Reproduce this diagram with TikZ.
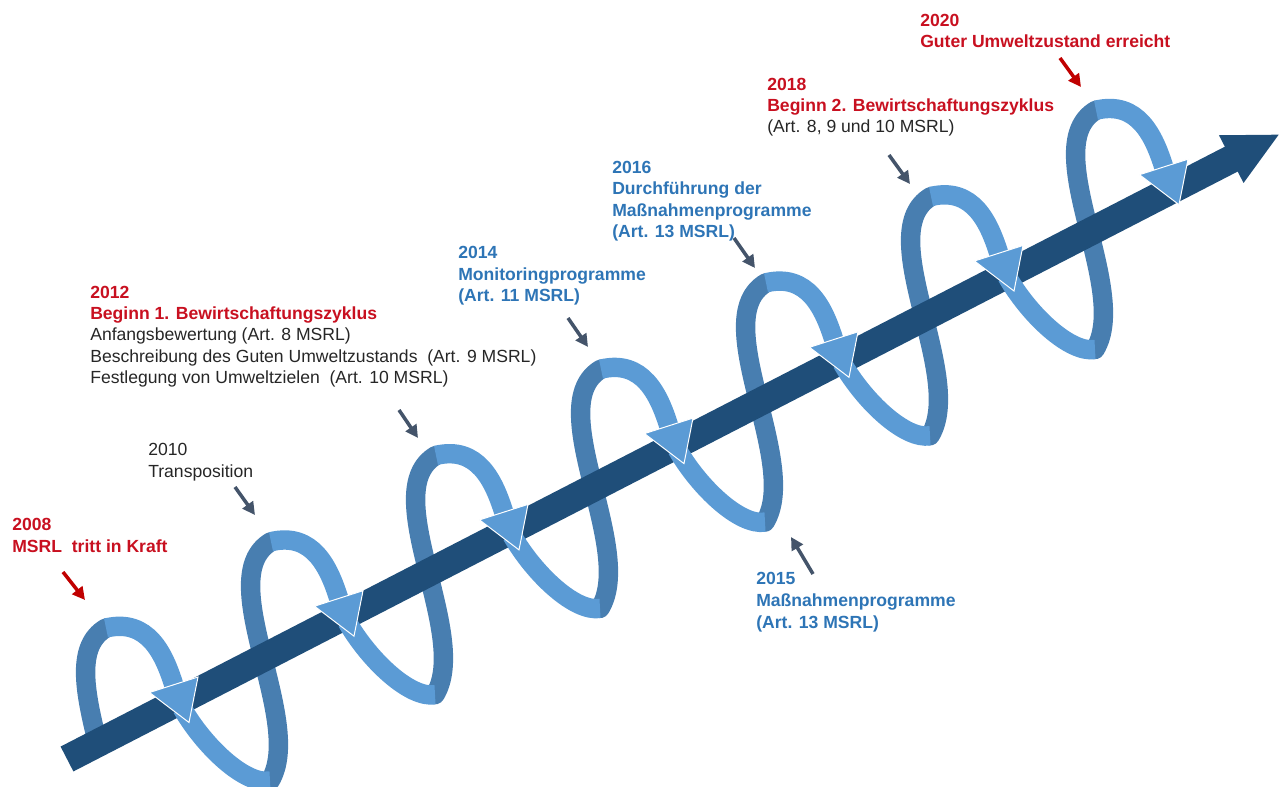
\documentclass[tikz,border=0pt]{standalone}
\usepackage{fontspec}
\setmainfont{Liberation Sans}
\usetikzlibrary{arrows.meta}
\definecolor{ringlight}{RGB}{91,155,213}
\definecolor{ringdark}{RGB}{72,126,176}
\definecolor{axisblue}{RGB}{31,78,121}
\definecolor{txtblue}{RGB}{46,117,182}
\definecolor{txtred}{RGB}{200,16,32}
\definecolor{arrred}{RGB}{192,0,0}
\definecolor{arrgray}{RGB}{68,84,106}
\definecolor{txtgray}{RGB}{38,38,38}

\begin{document}
\begin{tikzpicture}[x=0.025cm,y=-0.025cm,
    ringfront/.style={ringlight,line width=13.8pt},
    ringback/.style={ringdark,line width=13.8pt,line cap=round},
    ringtip/.style={fill=ringlight,draw=white,line width=0.7pt},
    note/.style={anchor=base west,inner sep=0pt,align=left,
      font=\fontsize{12.5}{15.3}\selectfont},
    boldnote/.style={note,font=\fontsize{12.5}{15.3}\selectfont\bfseries},
    pointer/.style={line width=2.5pt,-{Triangle[length=9pt,width=9pt]}}]
  \useasboundingbox (0,0) rectangle (1283,787);
  \pgfmathsetmacro\dx{165}
  \pgfmathsetmacro\dy{-86.3}

  % back halves of the rings (behind the axis)
  \begin{scope}
    \clip (0,0) -- (1283,0) -- (1283,131.8) -- (0,792.5) -- cycle;
    \draw[ringback,shift={(106,628)}]
      (-1,239.3) .. controls (35,180) and (-60,35) .. (0,0);
  \end{scope}
  \foreach \k in {0,...,5}{
    \pgfmathsetmacro\tx{106+\k*\dx}
    \pgfmathsetmacro\ty{628+\k*\dy}
    \draw[ringback,shift={(\tx,\ty)}]
      (164,153) .. controls (200,93.7) and (105,-51.3) .. (165,-86.3);
  }

  % time axis
  \coordinate (tail) at (67,759);
  \coordinate (head) at (1280,134);
  \draw[axisblue,line width=19.9pt,-{Triangle[length=39pt,width=35pt]}] (tail) -- (head);

  % front halves of the rings
  \foreach \k in {0,...,6}{
    \pgfmathsetmacro\tx{106+\k*\dx}
    \pgfmathsetmacro\ty{628+\k*\dy}
    \begin{scope}[shift={(\tx,\ty)}]
      \ifnum\k<6
        \draw[ringfront] (76,80) .. controls (98.5,119) and (139,157) .. (164,153);
      \fi
      \draw[ringfront] (0,0) .. controls (42,-10) and (58,26) .. (67.75,56.75);
      \filldraw[ringtip] (43.5,64.5) -- (92,49) -- (83,94.5) -- cycle;
    \end{scope}
  }

  % milestones (base = baseline of the last line)
  \node[boldnote,txtred] (y2008) at (12,552) {2008\\MSRL\ \ tritt in Kraft};
  \node[note,txtgray] (y2010) at (148,477) {2010\\Transposition};
  \node[boldnote,txtred] (y2012) at (90,320) {2012\\Beginn 1. Bewirtschaftungszyklus};
  \node[note,txtgray] (d2012) at (90,384)
    {Anfangsbewertung (Art. 8 MSRL)\\
     Beschreibung des Guten Umweltzustands\ \ (Art. 9 MSRL)\\
     Festlegung von Umweltzielen\ \ (Art. 10 MSRL)};
  \node[boldnote,txtblue] (y2014) at (458,302) {2014\\Monitoringprogramme\\(Art. 11 MSRL)};
  \node[boldnote,txtblue] (y2016) at (612,238)
    {2016\\Durchführung der\\Maßnahmenprogramme\\(Art. 13 MSRL)};
  \node[boldnote,txtblue] (y2015) at (756,628) {2015\\Maßnahmenprogramme\\(Art. 13 MSRL)};
  \node[boldnote,txtred] (y2018) at (767,112) {2018\\Beginn 2. Bewirtschaftungszyklus};
  \node[note,txtgray] (d2018) at (767,133) {(Art. 8, 9 und 10 MSRL)};
  \node[boldnote,txtred] (y2020) at (920,48) {2020\\Guter Umweltzustand erreicht};

  % pointers
  \coordinate (p2008a) at (63,572);   \coordinate (p2008b) at (85,600);
  \coordinate (p2010a) at (235,487);  \coordinate (p2010b) at (255,515);
  \coordinate (p2012a) at (399,410);  \coordinate (p2012b) at (418,438);
  \coordinate (p2014a) at (568,318);  \coordinate (p2014b) at (588,347);
  \coordinate (p2016a) at (734,238);  \coordinate (p2016b) at (755,268);
  \coordinate (p2015a) at (813,574);  \coordinate (p2015b) at (791,537);
  \coordinate (p2018a) at (889,155);  \coordinate (p2018b) at (910,184);
  \coordinate (p2020a) at (1060,58);  \coordinate (p2020b) at (1081,87);
  \draw[pointer,arrred] (p2008a) -- (p2008b);
  \draw[pointer,arrgray] (p2010a) -- (p2010b);
  \draw[pointer,arrgray] (p2012a) -- (p2012b);
  \draw[pointer,arrgray] (p2014a) -- (p2014b);
  \draw[pointer,arrgray] (p2016a) -- (p2016b);
  \draw[pointer,arrgray] (p2015a) -- (p2015b);
  \draw[pointer,arrgray] (p2018a) -- (p2018b);
  \draw[pointer,arrred] (p2020a) -- (p2020b);
\end{tikzpicture}
\end{document}
